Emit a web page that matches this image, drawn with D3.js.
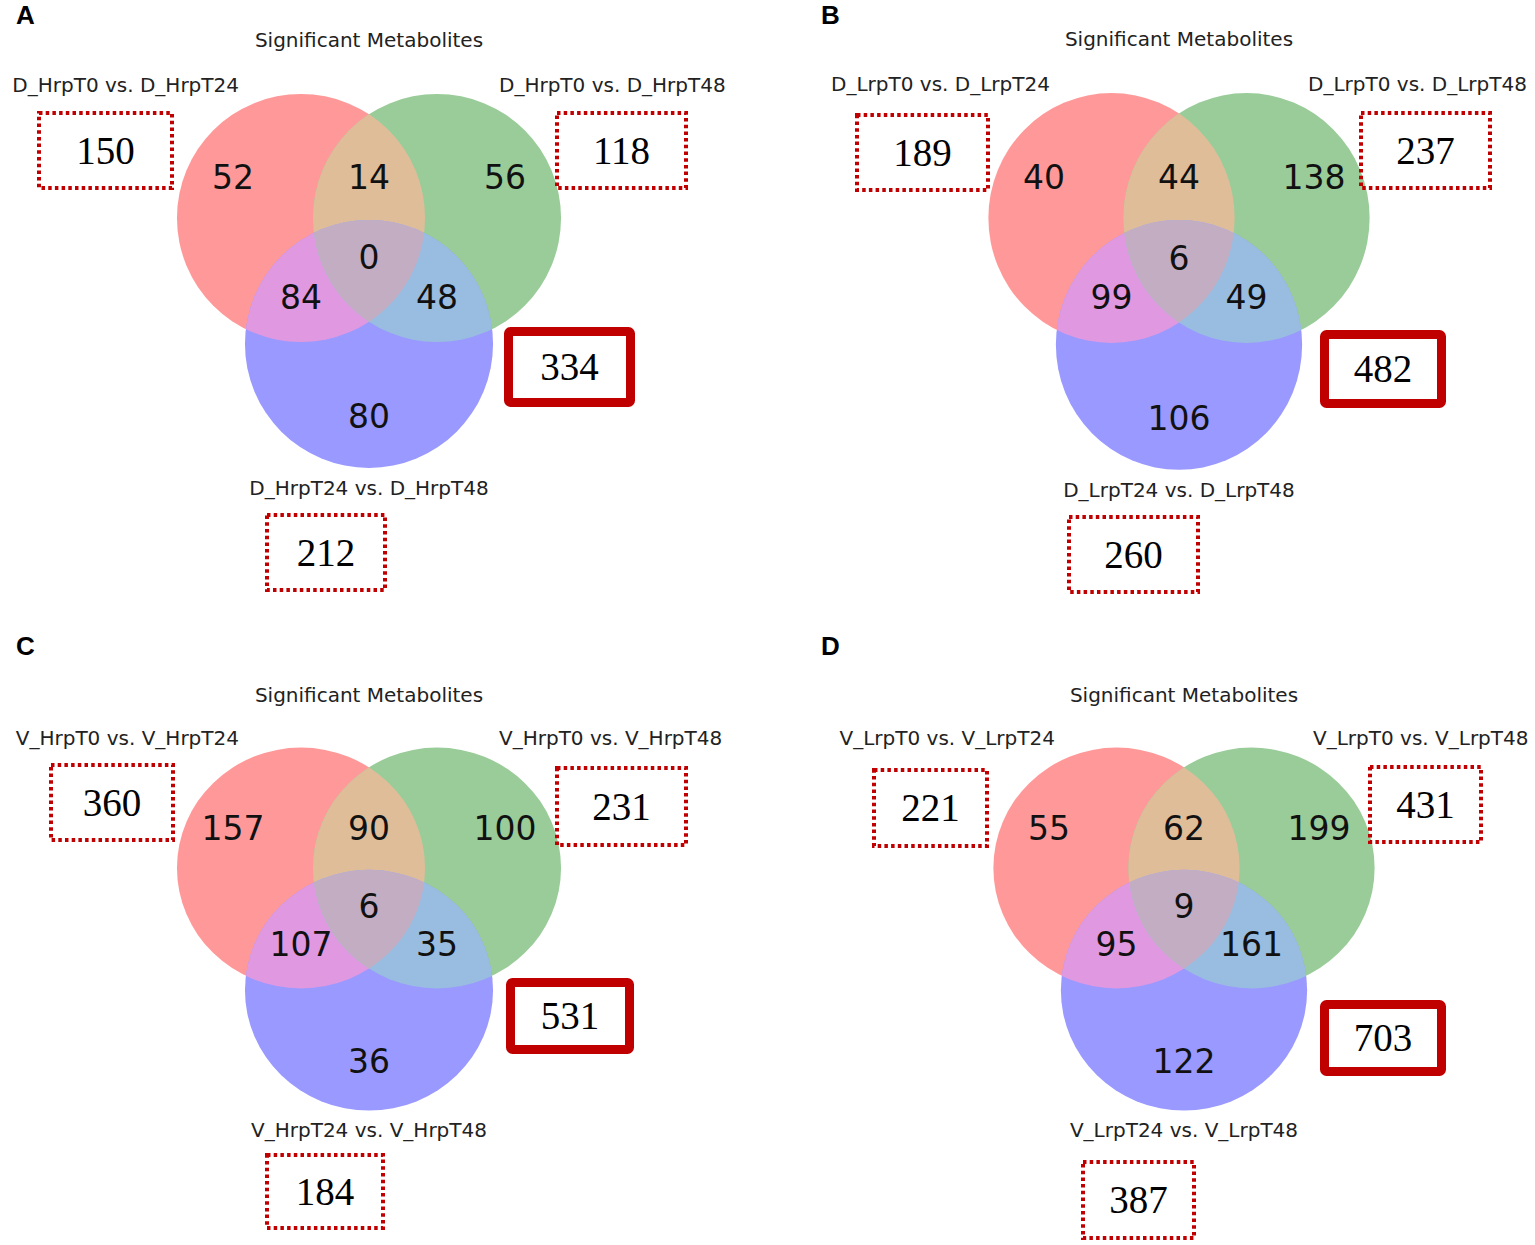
<!DOCTYPE html>
<html>
<head>
<meta charset="utf-8">
<script src="https://cdn.jsdelivr.net/npm/d3@7"></script>
<style>
body{margin:0;background:#fff}
svg{display:block}
</style>
</head>
<body>
<svg id="chart"></svg>
<script>
// ---- data ----
var panelNames = ["A", "B", "C", "D"];
var chartTitle = "Significant Metabolites";
// set names per panel: [left (red), right (green), bottom (blue)]
var setNames = [
	["D_HrpT0 vs. D_HrpT24", "D_HrpT0 vs. D_HrpT48", "D_HrpT24 vs. D_HrpT48"],
	["D_LrpT0 vs. D_LrpT24", "D_LrpT0 vs. D_LrpT48", "D_LrpT24 vs. D_LrpT48"],
	["V_HrpT0 vs. V_HrpT24", "V_HrpT0 vs. V_HrpT48", "V_HrpT24 vs. V_HrpT48"],
	["V_LrpT0 vs. V_LrpT24", "V_LrpT0 vs. V_LrpT48", "V_LrpT24 vs. V_LrpT48"]
];
// region keys: which sets a region belongs to (red, green, blue)
var regionKeys = ["100", "010", "110", "001", "101", "011", "111"];
var regionCountsA = [52, 56, 14, 80, 84, 48, 0];
var regionCountsB = [40, 138, 44, 106, 99, 49, 6];
var regionCountsC = [157, 100, 90, 36, 107, 35, 6];
var regionCountsD = [55, 199, 62, 122, 95, 161, 9];
var regionCounts = [regionCountsA, regionCountsB, regionCountsC, regionCountsD];

// ---- layout / style ----
var w = 1535, h = 1245;
var regionColor = {
	"100": "#ff9999", "010": "#99cc99", "001": "#9999ff",
	"110": "#e0bd99", "101": "#e099e0", "011": "#99bde0", "111": "#c2adc2"
};
// circle centers in units of the red-green center distance
var circleUnits = [[-0.5, 0], [0.5, 0], [0, 0.926]];
var R = 0.912;
var labelUnits = {
	"100": [-1, -0.3], "010": [1, -0.3], "110": [0, -0.3], "111": [0, 0.29],
	"101": [-0.5, 0.58], "011": [0.5, 0.58], "001": [0, 1.46]
};
var panelLayout = [
	{ox: 369, oy: 218, ux: 136, uy: 136, letter: [16, 24],
	 boxes: [[-263.5, -67.5, 133, 75], [252.5, -67.5, 129, 75], [-43, 334.5, 118, 75]], union: [200.5, 149, 131, 80]},
	{ox: 1179, oy: 218, ux: 135, uy: 137, letter: [821, 24],
	 boxes: [[-256.5, -65.5, 131, 75], [246.5, -67.5, 129, 75], [-45.5, 336.5, 129, 75]], union: [204, 151, 126, 78]},
	{ox: 369, oy: 868, ux: 136, uy: 132, letter: [16, 655],
	 boxes: [[-257, -65.5, 122, 75], [252.5, -61.5, 129, 77], [-44, 323.5, 116, 73]], union: [201, 148, 128, 76]},
	{ox: 1184, oy: 868, ux: 135, uy: 132, letter: [821, 655],
	 boxes: [[-253.5, -60, 113, 76], [241.5, -63.5, 111, 75], [-45.5, 332, 111, 76]], union: [199, 170, 126, 76]}
];
var darkRed = "#c00000";
var sans = "'DejaVu Sans', sans-serif";
var serif = "'Liberation Serif', 'Times New Roman', serif";

var svg = d3.select("#chart").attr("width", w).attr("height", h);
var defs = svg.append("defs");

function setTotal(counts, i) {
	return d3.sum(regionKeys, function(k, j) { return k[i] === "1" ? counts[j] : 0; });
}

panelNames.forEach(function(name, pi) {
	var L = panelLayout[pi];
	var counts = regionCounts[pi];
	var x = d3.scaleLinear().domain([0, 1]).range([L.ox, L.ox + L.ux]);
	var y = d3.scaleLinear().domain([0, 1]).range([L.oy, L.oy + L.uy]);
	var g = svg.append("g");

	function addEllipse(sel, ci) {
		return sel.append("ellipse")
			.attr("cx", x(circleUnits[ci][0]))
			.attr("cy", y(circleUnits[ci][1]))
			.attr("rx", x(R) - x(0))
			.attr("ry", y(R) - y(0));
	}

	circleUnits.forEach(function(c, ci) {
		addEllipse(defs.append("clipPath").attr("id", "clip" + pi + ci), ci);
	});

	// regions: singles first, then pairs, then the centre
	var ordered = regionKeys.slice().sort(function(a, b) {
		return d3.sum(a.split(""), Number) - d3.sum(b.split(""), Number);
	});
	ordered.forEach(function(k) {
		var members = [];
		k.split("").forEach(function(c, i) { if (c === "1") members.push(i); });
		var parent = g;
		members.slice(1).forEach(function(m) {
			parent = parent.append("g").attr("clip-path", "url(#clip" + pi + m + ")");
		});
		addEllipse(parent, members[0]).attr("fill", regionColor[k]);
	});

	// region counts
	g.selectAll("text.count")
		.data(regionKeys)
		.join("text")
		.attr("class", "count")
		.attr("x", function(k) { return x(labelUnits[k][0]); })
		.attr("y", function(k) { return y(labelUnits[k][1]); })
		.attr("dy", "0.36em")
		.attr("text-anchor", "middle")
		.attr("font-family", sans)
		.attr("font-size", "33px")
		.attr("fill", "#111")
		.text(function(k, j) { return counts[j]; });

	// title
	g.append("text")
		.attr("x", x(0)).attr("y", y(-1.255))
		.attr("text-anchor", "middle")
		.attr("font-family", sans).attr("font-size", "20px").attr("fill", "#222")
		.text(chartTitle);

	// set labels
	var setPos = [[-0.956, -0.93, "end"], [0.956, -0.93, "start"], [0, 2.04, "middle"]];
	setNames[pi].forEach(function(s, i) {
		g.append("text")
			.attr("x", x(setPos[i][0])).attr("y", y(setPos[i][1]))
			.attr("text-anchor", setPos[i][2])
			.attr("font-family", sans).attr("font-size", "20px").attr("fill", "#222")
			.text(s);
	});

	// dotted boxes with set totals
	L.boxes.forEach(function(b, i) {
		var cx = L.ox + b[0], cy = L.oy + b[1];
		g.append("rect")
			.attr("x", cx - b[2] / 2).attr("y", cy - b[3] / 2)
			.attr("width", b[2]).attr("height", b[3])
			.attr("fill", "none").attr("stroke", darkRed)
			.attr("stroke-width", 4).attr("stroke-dasharray", "3.5,3.2");
		g.append("text")
			.attr("x", cx).attr("y", cy).attr("dy", "0.34em")
			.attr("text-anchor", "middle")
			.attr("font-family", serif).attr("font-size", "39px").attr("fill", "#000")
			.text(setTotal(counts, i));
	});

	// solid box with union total
	var u = L.union;
	g.append("rect")
		.attr("x", L.ox + u[0] - u[2] / 2 + 4.5).attr("y", L.oy + u[1] - u[3] / 2 + 4.5)
		.attr("width", u[2] - 9).attr("height", u[3] - 9)
		.attr("rx", 2)
		.attr("fill", "#fff").attr("stroke", darkRed).attr("stroke-width", 9);
	g.append("text")
		.attr("x", L.ox + u[0]).attr("y", L.oy + u[1]).attr("dy", "0.34em")
		.attr("text-anchor", "middle")
		.attr("font-family", serif).attr("font-size", "39px").attr("fill", "#000")
		.text(d3.sum(counts));

	// panel letter
	svg.append("text")
		.attr("x", L.letter[0]).attr("y", L.letter[1])
		.attr("font-family", "'Liberation Sans', Arial, sans-serif")
		.attr("font-weight", "bold").attr("font-size", "26px")
		.text(name);
});
</script>
</body>
</html>
